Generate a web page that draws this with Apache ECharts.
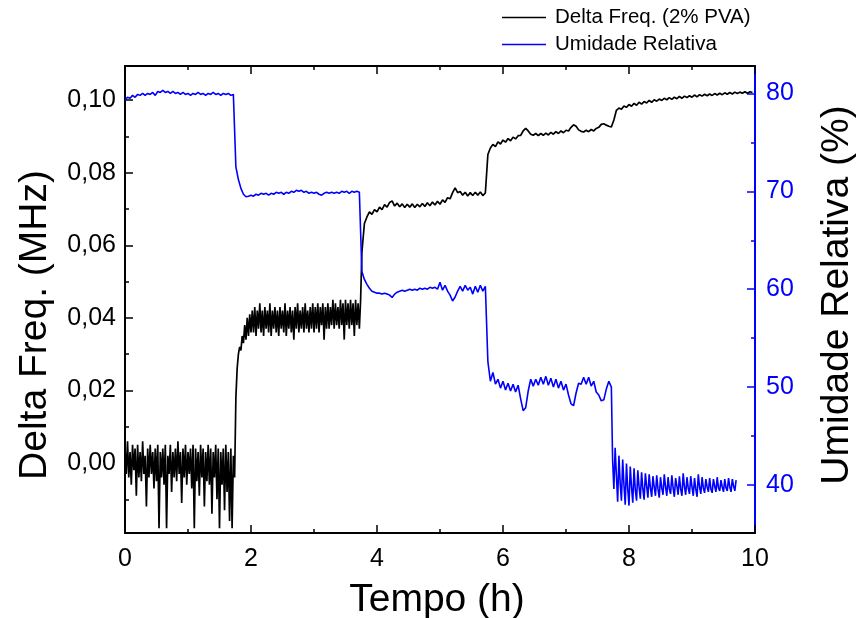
<!DOCTYPE html>
<html><head><meta charset="utf-8">
<script src="https://cdn.jsdelivr.net/npm/echarts@6/dist/echarts.min.js"></script>
<style>html,body{margin:0;padding:0;background:#fff}#c{width:859px;height:618px}</style>
</head><body><div id="c"></div>
<script>
// ---- Data (time in hours) ----
const xTicks = [0, 2, 4, 6, 8, 10];
const leftTicks = [0.00, 0.02, 0.04, 0.06, 0.08, 0.10];
const rightTicks = [40, 50, 60, 70, 80];
const seriesNames = ['Delta Freq. (2% PVA)', 'Umidade Relativa'];

// Delta Freq. segments: [start time, step]
const freqSegStart = [0, 1.74, 3.76, 5.76, 7.76];
const freqSegStep = [0.02, 0.02, 0.04, 0.04, 0.04];
const freqA = [0.004,-0.003,0.006,-0.004,0.003,-0.006,0.005,-0.002,0.004,-0.009,
0.005,-0.004,0.003,-0.005,0.006,-0.003,0.002,-0.012,0.004,-0.004,
0.005,-0.003,0.003,-0.007,0.004,-0.005,0.005,-0.018,0.003,-0.004,
0.004,-0.006,0.005,-0.018,0.002,-0.003,0.005,-0.008,0.003,-0.004,
0.004,-0.005,0.006,-0.003,0.003,-0.011,0.004,-0.004,0.005,-0.006,
0.003,-0.003,0.004,-0.007,0.005,-0.018,0.004,-0.005,0.003,-0.009,
0.005,-0.004,0.004,-0.012,0.003,-0.005,0.005,-0.006,0.004,-0.014,
0.003,-0.004,0.005,-0.010,0.004,-0.018,0.003,-0.006,0.004,-0.013,
0.005,-0.008,0.003,-0.016,0.004,-0.018,0.002];
const freqB = [-0.004,0.018,0.026,0.030,0.032,0.031,0.035,0.033,0.038,0.034,0.040,0.035,0.041,0.036,
0.042,0.036,0.043,0.035,0.042,0.037,0.044,0.036,0.042,0.035,
0.043,0.037,0.042,0.036,0.044,0.035,0.042,0.037,0.043,0.036,
0.042,0.035,0.043,0.037,0.042,0.036,0.044,0.035,0.042,0.037,
0.043,0.036,0.042,0.034,0.043,0.037,0.044,0.036,0.042,0.037,
0.043,0.036,0.044,0.037,0.042,0.036,0.043,0.037,0.044,0.036,
0.043,0.037,0.044,0.036,0.043,0.038,0.044,0.034,0.043,0.037,
0.044,0.037,0.043,0.038,0.045,0.037,0.044,0.038,0.043,0.037,
0.045,0.038,0.044,0.034,0.045,0.038,0.044,0.037,0.045,0.038,
0.044,0.035,0.045,0.038,0.044,0.037,0.045];
const freqC = [0.058,0.066,0.0678,0.0692,0.0685,0.0698,0.0692,0.0705,0.0698,0.0712,
0.0705,0.0718,0.0722,0.0708,0.0716,0.0706,0.0714,0.0704,0.0713,0.0705,
0.0714,0.0704,0.0713,0.0706,0.0715,0.0707,0.0717,0.0709,0.0719,0.0711,
0.0721,0.0713,0.0725,0.0718,0.0731,0.0728,0.0745,0.0758,0.0745,0.0748,
0.0738,0.0746,0.0736,0.0745,0.0737,0.0746,0.0738,0.0747,0.0737,0.0744];
const freqD = [0.085,0.0868,0.0878,0.0872,0.0885,0.0879,0.0890,0.0884,0.0894,0.0888,
0.0898,0.0893,0.0902,0.0903,0.0915,0.0922,0.0915,0.0906,0.0903,0.0908,
0.0902,0.0908,0.0903,0.0909,0.0904,0.0911,0.0906,0.0913,0.0908,0.0915,
0.0910,0.0917,0.0915,0.0925,0.0932,0.0928,0.0918,0.0914,0.0912,0.0917,
0.0913,0.0919,0.0915,0.0922,0.0925,0.0933,0.0935,0.0931,0.0928,0.0926];
const freqE = [0.0945,0.0972,0.0978,0.0975,0.0984,0.0980,0.0988,0.0983,0.0991,0.0986,
0.0994,0.0989,0.0996,0.0992,0.0999,0.0994,0.1001,0.0997,0.1003,0.0999,
0.1005,0.1001,0.1007,0.1002,0.1008,0.1004,0.1010,0.1005,0.1011,0.1007,
0.1012,0.1008,0.1014,0.1009,0.1015,0.1011,0.1016,0.1012,0.1017,0.1013,
0.1018,0.1014,0.1019,0.1015,0.1020,0.1016,0.1021,0.1017,0.1022,0.1018,
0.1022,0.1019,0.1023,0.1019,0.1023,0.1021];

// Umidade Relativa segments
const rhSegStart = [0, 1.76, 3.76, 5.76, 7.74];
const rhSegStep = [0.04, 0.04, 0.04, 0.04, 0.02];
const rhA = [79.3,79.6,79.5,79.8,79.6,79.9,79.8,80.0,79.8,80.0,
79.9,80.1,79.8,80.2,80.1,80.3,80.1,80.2,80.0,80.2,
80.0,80.1,79.9,80.1,79.9,80.0,79.8,80.0,79.9,80.1,
79.9,80.0,79.8,80.0,79.9,80.1,79.9,80.0,79.8,80.0,
79.9,80.0,79.8,79.9];
const rhB = [72.5,71.2,70.3,69.7,69.45,69.5,69.6,69.5,69.7,69.6,
69.8,69.7,69.8,69.6,69.8,69.7,69.9,69.8,69.9,69.7,
69.9,69.8,70.0,69.9,70.1,70.0,70.1,69.9,70.0,69.8,
69.9,69.8,69.9,69.7,69.6,69.8,69.9,69.8,69.9,69.8,
69.9,69.8,70.0,69.9,70.0,69.8,70.0,69.9,70.0,69.9];
const rhC = [61.8,61.0,60.5,60.1,59.8,59.7,59.6,59.6,59.5,59.6,
59.5,59.4,59.15,59.5,59.7,59.8,59.9,59.8,59.9,60.0,
59.9,60.0,59.9,60.1,60.0,60.1,60.0,60.2,60.1,60.2,
60.0,60.7,59.9,60.4,59.8,59.4,58.8,59.2,59.8,60.3,
59.8,60.4,59.9,60.2,59.5,60.3,59.7,60.4,59.8,60.3];
const rhD = [52.6,50.6,51.5,50.3,50.8,49.9,50.6,49.7,50.4,49.6,
50.3,49.5,50.2,48.8,47.6,47.9,49.6,50.8,50.1,50.8,
50.2,51.0,50.3,51.1,50.2,50.9,50.0,50.8,49.9,50.6,
49.7,50.3,49.2,48.3,48.1,49.4,50.4,50.3,51.0,50.3,
51.0,50.1,50.6,49.5,49.2,48.6,48.7,49.8,50.6,50.0];
const rhE = [42.5,39.6,43.8,41.0,38.3,43.0,40.2,38.4,42.6,40.0,
38.0,42.2,39.6,37.9,41.9,39.8,38.2,41.7,39.5,38.4,
41.5,39.8,38.6,41.3,39.6,38.5,41.2,39.9,38.7,41.1,
39.7,38.8,40.9,39.8,38.9,41.0,39.6,38.7,40.8,39.7,
39.0,41.1,39.8,38.9,40.8,39.6,39.1,41.0,39.7,38.8,
40.7,39.9,39.0,40.9,39.6,38.9,41.2,39.8,39.0,40.8,
39.7,39.1,40.9,39.8,38.9,40.7,39.6,38.8,41.1,39.8,
39.1,40.8,39.7,39.2,40.6,39.8,39.3,40.7,39.6,39.2,
40.6,39.9,39.3,40.8,39.7,39.4,40.5,39.8,39.3,40.6,
39.7,39.4,40.7,39.8,39.3,40.6,39.9,39.4,40.5];

// ---- Build series from segments ----
function build(starts, steps, segs) {
  const out = [];
  segs.forEach((vals, s) => {
    vals.forEach((v, i) => out.push([+(starts[s] + i * steps[s]).toFixed(3), v]));
  });
  return out;
}
const freqData = build(freqSegStart, freqSegStep, [freqA, freqB, freqC, freqD, freqE]);
const rhData = build(rhSegStart, rhSegStep, [rhA, rhB, rhC, rhD, rhE]);

const FONT = "'Liberation Sans', Arial, sans-serif";
const BLUE = '#0000ff';
const L_MIN = -0.0193, L_MAX = 0.1094, R_MIN = 35.1, R_MAX = 82.8;
const leftMinor = [-0.01, 0.01, 0.03, 0.05, 0.07, 0.09];
const rightMinor = [45, 55, 65, 75];
const G = {left: 125, right: 104, top: 66, bottom: 85, containLabel: false};

const chart = echarts.init(document.getElementById('c'), null, {renderer: 'canvas'});
chart.setOption({
  animation: false,
  backgroundColor: '#fff',
  textStyle: {fontFamily: FONT},
  grid: [Object.assign({}, G), Object.assign({}, G)],
  legend: {
    orient: 'vertical', left: 502, top: 7, padding: 0, itemWidth: 44, itemHeight: 1.5, itemGap: 6,
    icon: 'rect', data: seriesNames,
    textStyle: {fontFamily: FONT, fontSize: 20.5, color: '#000', lineHeight: 20, padding: [0, 0, 0, 4]}
  },
  xAxis: [{
    gridIndex: 0, type: 'value', min: 0, max: 10, interval: 2, position: 'bottom',
    axisLine: {onZero: false, lineStyle: {color: '#000', width: 2}},
    axisTick: {inside: true, length: 8, lineStyle: {color: '#000', width: 1.5}},
    minorTick: {show: true, splitNumber: 2, length: 4, lineStyle: {color: '#000', width: 1.5}},
    axisLabel: {fontSize: 25, color: '#000', margin: 14, fontFamily: FONT, showMinLabel: true, showMaxLabel: true},
    splitLine: {show: false}
  }, {
    gridIndex: 0, type: 'value', min: 0, max: 10, interval: 2, position: 'top',
    axisLine: {onZero: false, lineStyle: {color: '#000', width: 2}},
    axisTick: {inside: true, length: 8, lineStyle: {color: '#000', width: 1.5}},
    minorTick: {show: true, splitNumber: 2, length: 4, lineStyle: {color: '#000', width: 1.5}},
    axisLabel: {show: false}, splitLine: {show: false}
  }, {
    gridIndex: 1, type: 'value', min: 0, max: 10, show: false
  }],
  yAxis: [{
    gridIndex: 0, type: 'value', min: L_MIN, max: L_MAX, position: 'left',
    axisLine: {show: true, onZero: false, lineStyle: {color: '#000', width: 2}},
    axisTick: {show: true, inside: true, length: 8, customValues: leftTicks, lineStyle: {color: '#000', width: 1.5}},
    axisLabel: {customValues: leftTicks, fontSize: 25, color: '#000', margin: 9, fontFamily: FONT,
      formatter: v => v.toFixed(2).replace('.', ',')},
    splitLine: {show: false}
  }, {
    gridIndex: 0, type: 'value', min: R_MIN, max: R_MAX, position: 'right',
    axisLine: {show: true, onZero: false, lineStyle: {color: BLUE, width: 2}},
    axisTick: {show: true, inside: true, length: 8, customValues: rightTicks, lineStyle: {color: BLUE, width: 1.5}},
    axisLabel: {customValues: rightTicks, fontSize: 25, color: BLUE, margin: 11, fontFamily: FONT},
    splitLine: {show: false}
  }, {
    gridIndex: 1, type: 'value', min: L_MIN, max: L_MAX, position: 'left',
    axisLine: {show: false, onZero: false},
    axisTick: {show: true, inside: true, length: 4, customValues: leftMinor, lineStyle: {color: '#000', width: 1.5}},
    axisLabel: {show: false}, splitLine: {show: false}
  }, {
    gridIndex: 1, type: 'value', min: R_MIN, max: R_MAX, position: 'right',
    axisLine: {show: false, onZero: false},
    axisTick: {show: true, inside: true, length: 4, customValues: rightMinor, lineStyle: {color: BLUE, width: 1.5}},
    axisLabel: {show: false}, splitLine: {show: false}
  }],
  series: [{
    name: seriesNames[0], type: 'line', xAxisIndex: 0, yAxisIndex: 0, data: freqData,
    showSymbol: false, symbol: 'none', color: '#000', lineStyle: {color: '#000', width: 1.7}
  }, {
    name: seriesNames[1], type: 'line', xAxisIndex: 0, yAxisIndex: 1, data: rhData,
    showSymbol: false, symbol: 'none', color: BLUE, lineStyle: {color: BLUE, width: 1.6}
  }],
  graphic: [
    {type: 'text', position: [437, 600], style: {text: 'Tempo (h)', font: "39px " + FONT, fill: '#000', textAlign: 'center', textVerticalAlign: 'middle'}},
    {type: 'text', rotation: Math.PI / 2, position: [35, 325], style: {text: 'Delta Freq. (MHz)', font: "39px " + FONT, fill: '#000', textAlign: 'center', textVerticalAlign: 'middle'}},
    {type: 'text', rotation: Math.PI / 2, position: [837, 295], style: {text: 'Umidade Relativa (%)', font: "39px " + FONT, fill: '#000', textAlign: 'center', textVerticalAlign: 'middle'}}
  ]
});
</script></body></html>
